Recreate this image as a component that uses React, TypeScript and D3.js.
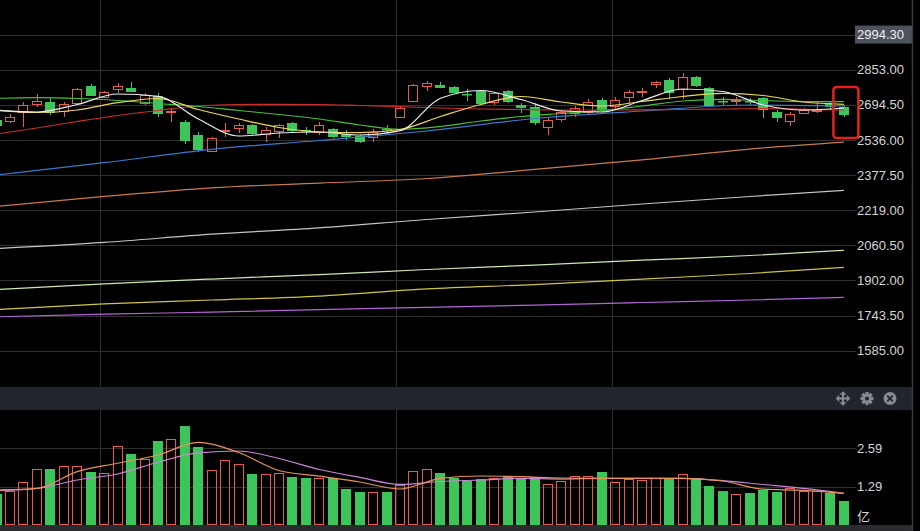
import * as d3 from "d3";

// daily candles, index 0 is cut off at the left edge
const OPEN = [2626, 2621.5, 2663.5, 2696.9, 2708.6, 2668, 2701.4, 2779.5, 2731.2, 2764.6, 2771.8, 2701.4, 2735.7, 2662.1, 2617, 2558.3, 2487.5, 2575, 2588.6, 2603.5, 2562.9, 2577.7, 2613.9, 2580, 2573.2, 2584.1, 2562.9, 2553.8, 2548, 2586.8, 2640.9, 2713.1, 2780.8, 2784, 2773.6, 2745.6, 2756.9, 2708.6, 2756.9, 2693.7, 2686.1, 2595.8, 2629.2, 2659, 2663.5, 2716.3, 2689.2, 2731.2, 2751.5, 2788.5, 2806.6, 2764.6, 2821.5, 2769.1, 2710.9, 2710.9, 2710.9, 2724, 2663.5, 2622.9, 2659, 2668.9, 2701.4, 2686.1];
const HIGH = [2639.6, 2651.8, 2708.6, 2743.4, 2724, 2708.6, 2769.1, 2788.5, 2758.3, 2791.7, 2796.2, 2749.2, 2749.2, 2678.8, 2626, 2573.2, 2550.7, 2611.1, 2613.9, 2608, 2595.8, 2608, 2618.4, 2595.8, 2618.4, 2588.6, 2580.9, 2558.3, 2584.1, 2603.5, 2689.2, 2788.5, 2803.4, 2798.9, 2779.5, 2764.6, 2761.4, 2749.2, 2761.4, 2704.1, 2704.1, 2633.7, 2671.2, 2689.2, 2719.5, 2724, 2728.5, 2761.4, 2769.1, 2803.4, 2814.2, 2836.8, 2824.6, 2776.3, 2731.2, 2731.2, 2725.3, 2731.2, 2671.2, 2663.5, 2681.5, 2708.6, 2713.1, 2693.7];
const LOW = [2585.4, 2611.1, 2595.8, 2686.1, 2648.6, 2640.9, 2693.7, 2734.4, 2724, 2746.5, 2751, 2693.7, 2638.2, 2618.4, 2517.7, 2483, 2483, 2550.7, 2568.7, 2558.3, 2528.1, 2543.5, 2568.7, 2558.3, 2558.3, 2543.5, 2535.8, 2523.6, 2528.1, 2566, 2633.7, 2705.9, 2758.3, 2769.1, 2746.5, 2713.1, 2693.7, 2693.7, 2701.4, 2656.3, 2603.5, 2558.3, 2618.4, 2640.9, 2653.1, 2663.5, 2671.2, 2704.1, 2731.2, 2769.1, 2719.5, 2719.5, 2775, 2686.1, 2693.7, 2693.7, 2693.7, 2633.7, 2618.4, 2599, 2656.3, 2659, 2671.2, 2640.9];
const CLOSE = [2599, 2640.9, 2693.7, 2713.1, 2659, 2696.9, 2764.6, 2735.7, 2753.8, 2779.5, 2753.8, 2738.9, 2651.8, 2666.7, 2532.6, 2490.6, 2543.5, 2580.9, 2603.5, 2562.9, 2580.9, 2603.5, 2577.7, 2575.5, 2603.5, 2548, 2550.7, 2528.1, 2573.2, 2581.8, 2678.8, 2784, 2794.4, 2771.8, 2749.2, 2741.1, 2698.2, 2746.5, 2708.6, 2681.5, 2611.1, 2626, 2663.5, 2678.8, 2708.6, 2671.2, 2716.3, 2751, 2756, 2798.9, 2746.5, 2821.5, 2779.5, 2689.2, 2706.4, 2715.4, 2706.4, 2671.2, 2633.7, 2653.1, 2671.2, 2673.4, 2686.1, 2648.6];
// volume in 亿
const VOLUME = [1.04, 1.15, 1.44, 1.88, 1.88, 1.98, 1.98, 1.79, 1.75, 2.67, 2.4, 2.22, 2.84, 2.9, 3.35, 2.64, 1.86, 2.19, 2.05, 1.72, 1.71, 1.76, 1.62, 1.59, 1.59, 1.59, 1.21, 1.11, 1.11, 1.11, 1.35, 1.81, 1.88, 1.76, 1.59, 1.48, 1.55, 1.59, 1.65, 1.59, 1.62, 1.38, 1.48, 1.65, 1.65, 1.79, 1.45, 1.54, 1.52, 1.59, 1.54, 1.72, 1.59, 1.32, 1.16, 1.04, 1.07, 1.18, 1.11, 1.25, 1.14, 1.16, 1.09, 0.82];

// short averages, read at every third session
const MA_DAYS = [0, 3, 6, 9, 12, 15, 18, 21, 24, 27, 30, 33, 36, 39, 42, 45, 48, 51, 54, 57, 60, 63];
const MA5 = [2668.9, 2662.1, 2696, 2743.3, 2732.5, 2630.5, 2553.8, 2567.3, 2571.8, 2558.3, 2577.7, 2723.9, 2759.1, 2718.5, 2666.6, 2662.1, 2714, 2765.9, 2754.6, 2693.7, 2671.1, 2680.2];
const MA10 = [2671.1, 2659.8, 2671.1, 2704.1, 2723, 2673.4, 2630.5, 2592.1, 2571.8, 2568.7, 2583.1, 2641.8, 2696, 2732.1, 2707.2, 2689.2, 2709.5, 2732.1, 2746.5, 2736.6, 2707.2, 2696.8];
const MA20 = [2723.9, 2726.6, 2723, 2714, 2700.5, 2686.9, 2668.9, 2650.8, 2630.5, 2603.4, 2584, 2596.7, 2621.5, 2641.8, 2655.3, 2668, 2689.2, 2711.7, 2719.4, 2714, 2708.6, 2708.6];
const MA30 = [2562.8, 2589.9, 2619.2, 2646.3, 2668.9, 2689.2, 2696, 2696.9, 2696, 2691.4, 2686, 2680.2, 2675.6, 2673.4, 2671.1, 2671.1, 2672, 2673.4, 2675.6, 2677.9, 2674.3, 2671.1];
const VOL_MA5 = [1.178, 1.232, 1.801, 2.085, 2.363, 2.789, 2.448, 1.838, 1.645, 1.449, 1.212, 1.574, 1.652, 1.628, 1.584, 1.574, 1.574, 1.574, 1.483, 1.205, 1.168, 1.066];
const VOL_MA10 = [1.154, 1.229, 1.517, 1.72, 2.119, 2.437, 2.498, 2.244, 1.872, 1.605, 1.368, 1.466, 1.517, 1.574, 1.547, 1.574, 1.574, 1.574, 1.493, 1.364, 1.232, 1.066];

// long averages, read at every eighth session
const LONG_DAYS = [0, 8, 16, 24, 32, 40, 48, 56, 63];
const MA60 = [2377.8, 2433.3, 2493.8, 2533.5, 2576.4, 2632.8, 2666.6, 2693.7, 2689.2];
const MA120 = [2236, 2281, 2320, 2341, 2362, 2403, 2446, 2495, 2526];
const MA250 = [2046, 2073.6, 2110.6, 2139, 2177, 2210.8, 2247, 2280.8, 2308.7];
const MA500 = [1861, 1886.3, 1908.4, 1928.7, 1951.3, 1971.6, 1993.3, 2014.5, 2038];
const MA750 = [1771, 1796.5, 1813.7, 1831.7, 1864.2, 1883.6, 1908.4, 1933.3, 1961.2];
const MA1000 = [1737.8, 1749.6, 1759.5, 1770, 1780.7, 1791, 1802.4, 1813.7, 1825.8];

const PRICE_TICKS = [1585, 1743.5, 1902, 2060.5, 2219, 2377.5, 2536, 2694.5, 2853];
const PRICE_STEP = 158.5;
const PRICE_HIGH = "2994.30";
const VOL_TICKS = [1.29, 2.59];
const VOL_UNIT = "亿";
// month boundaries, as fractional session positions
const MONTH_SPLITS = [7.7, 29.7, 45.76];

const W = 920;
const H = 531;
const GRID_RIGHT = 856;
const LABEL_X = 857;
const MAIN_BOTTOM = 387;
const BAR_TOP = 387;
const BAR_BOTTOM = 410;
const VOL_BOTTOM = 525;

const RED = "#e65a52";
const GREEN = "#3ec55a";
const GRID = "#303030";
const TEXT = "#d6d6d6";
const FONT = "'Liberation Sans', Arial, sans-serif";

const x = d3.scaleLinear().domain([0, OPEN.length - 1]).range([-3.45, 843.9]);
const y = d3.scaleLinear().domain([1585, 2853]).range([350.7, 69.7]);
const vy = d3.scaleLinear().domain([0, 2.59]).range([524.8, 448.3]);

function path(days: number[], values: number[], scale: d3.ScaleLinear<number, number>) {
  return (
    d3
      .line<number>()
      .x((_, k) => x(days[k]))
      .y((v) => scale(v))
      .curve(d3.curveMonotoneX)(values) || ""
  );
}

const priceLines = [
  { days: LONG_DAYS, values: MA1000, color: "#b366d6" },
  { days: LONG_DAYS, values: MA750, color: "#cfc446" },
  { days: LONG_DAYS, values: MA500, color: "#cde8b0" },
  { days: LONG_DAYS, values: MA250, color: "#c4c4c4" },
  { days: LONG_DAYS, values: MA120, color: "#c97a4c" },
  { days: LONG_DAYS, values: MA60, color: "#3a78c9" },
  { days: MA_DAYS, values: MA30, color: "#c8302c" },
  { days: MA_DAYS, values: MA20, color: "#47bf3f" },
  { days: MA_DAYS, values: MA10, color: "#ecd65a" },
  { days: MA_DAYS, values: MA5, color: "#ececec" },
];

const volLines = [
  { days: MA_DAYS, values: VOL_MA10, color: "#c985d8" },
  { days: MA_DAYS, values: VOL_MA5, color: "#e8925a" },
];

export default function App() {
  const topY = y(PRICE_TICKS[PRICE_TICKS.length - 1] + PRICE_STEP);
  const last = OPEN.length - 1;
  const iconY = (BAR_TOP + BAR_BOTTOM) / 2;

  return (
    <svg
      width={W}
      height={H}
      style={{ position: "absolute", left: 0, top: 0, background: "#000" }}
      fontFamily={FONT}
    >
      <rect width={W} height={H} fill="#000" />

      {/* grid */}
      <line x1={0} x2={GRID_RIGHT} y1={Math.round(topY) + 0.5} y2={Math.round(topY) + 0.5} stroke={GRID} />
      {PRICE_TICKS.map((t) => (
        <line key={t} x1={0} x2={GRID_RIGHT} y1={Math.round(y(t)) + 0.5} y2={Math.round(y(t)) + 0.5} stroke={GRID} />
      ))}
      {VOL_TICKS.map((t) => (
        <line key={t} x1={0} x2={GRID_RIGHT} y1={Math.round(vy(t)) + 0.5} y2={Math.round(vy(t)) + 0.5} stroke={GRID} />
      ))}
      {MONTH_SPLITS.map((d) => {
        const px = Math.round(x(d)) + 0.5;
        return (
          <g key={d}>
            <line x1={px} x2={px} y1={0} y2={MAIN_BOTTOM} stroke={GRID} />
            <line x1={px} x2={px} y1={BAR_BOTTOM} y2={VOL_BOTTOM} stroke={GRID} />
          </g>
        );
      })}

      {/* candles */}
      {OPEN.map((o, i) => {
        const c = CLOSE[i];
        const up = c >= o;
        const cx = Math.round(x(i)) + 0.5;
        const top = Math.round(y(Math.max(o, c)));
        const bot = Math.round(y(Math.min(o, c)));
        const hi = Math.round(y(HIGH[i]));
        const lo = Math.round(y(LOW[i]));
        if (up) {
          return (
            <g key={i} stroke={RED} fill="none">
              <line x1={cx} x2={cx} y1={hi} y2={top} />
              <line x1={cx} x2={cx} y1={bot} y2={lo} />
              <rect x={cx - 5} y={top + 0.5} width={9} height={Math.max(bot - top, 1)} />
            </g>
          );
        }
        return (
          <g key={i}>
            <line x1={cx} x2={cx} y1={hi} y2={lo} stroke={GREEN} />
            <rect x={cx - 5.5} y={top} width={10} height={Math.max(bot - top, 1.5)} fill={GREEN} />
          </g>
        );
      })}

      {/* moving averages */}
      {priceLines.map((l, k) => (
        <path key={k} d={path(l.days, l.values, y)} fill="none" stroke={l.color} strokeWidth={1.2} />
      ))}

      {/* volume */}
      {VOLUME.map((v, i) => {
        const up = CLOSE[i] >= OPEN[i];
        const cx = Math.round(x(i)) + 0.5;
        const top = Math.round(vy(v));
        const base = Math.round(vy(0));
        return up ? (
          <rect key={i} x={cx - 5} y={top + 0.5} width={9} height={base - top - 1} fill="none" stroke={RED} />
        ) : (
          <rect key={i} x={cx - 5.5} y={top} width={10} height={base - top} fill={GREEN} />
        );
      })}
      {volLines.map((l, k) => (
        <path key={k} d={path(l.days, l.values, vy)} fill="none" stroke={l.color} strokeWidth={1.2} />
      ))}

      {/* right axis labels */}
      <rect x={855} y={topY - 9} width={57} height={18} fill="#4d525b" />
      <text x={LABEL_X} y={topY} dy="0.35em" fontSize={13} fill="#f0f0f0">
        {PRICE_HIGH}
      </text>
      {PRICE_TICKS.map((t) => (
        <text key={t} x={LABEL_X} y={y(t)} dy="0.35em" fontSize={13} fill={TEXT}>
          {t.toFixed(2)}
        </text>
      ))}
      {VOL_TICKS.map((t) => (
        <text key={t} x={LABEL_X} y={vy(t)} dy="0.35em" fontSize={13} fill={TEXT}>
          {t.toFixed(2)}
        </text>
      ))}
      <text x={LABEL_X} y={vy(0.27)} dy="0.35em" fontSize={13} fill={TEXT} fontFamily="'Noto Sans CJK SC', sans-serif">
        {VOL_UNIT}
      </text>

      {/* toolbar between panels */}
      <rect x={0} y={BAR_TOP} width={912} height={BAR_BOTTOM - BAR_TOP} fill="#22252c" />
      <g transform={`translate(843,${iconY})`} stroke="#868b96" strokeWidth={2} fill="#868b96">
        <line x1={-6} x2={6} y1={0} y2={0} />
        <line x1={0} x2={0} y1={-6} y2={6} />
        <path d="M-7,0 L-4,-3 L-4,3 Z M7,0 L4,-3 L4,3 Z M0,-7 L-3,-4 L3,-4 Z M0,7 L-3,4 L3,4 Z" strokeWidth={0.5} />
      </g>
      <g transform={`translate(867,${iconY})`} fill="#868b96">
        {d3.range(8).map((k) => (
          <rect key={k} x={-1.6} y={-6.5} width={3.2} height={4} transform={`rotate(${k * 45})`} />
        ))}
        <circle r={4.6} />
        <circle r={2} fill="#22252c" />
      </g>
      <g transform={`translate(890,${iconY})`}>
        <circle r={6.5} fill="#868b96" />
        <path d="M-2.8,-2.8 L2.8,2.8 M2.8,-2.8 L-2.8,2.8" stroke="#22252c" strokeWidth={1.8} />
      </g>

      {/* bottom strip and right border */}
      <rect x={0} y={VOL_BOTTOM} width={912} height={H - VOL_BOTTOM} fill="#2a2c32" />
      <line x1={912.5} x2={912.5} y1={0} y2={H} stroke="#3a3b40" strokeWidth={1.5} />

      {/* highlight around the latest session */}
      <rect
        x={x(last) - 10.5}
        y={y(2775)}
        width={25}
        height={y(2545) - y(2775)}
        rx={3}
        fill="none"
        stroke="#e3221d"
        strokeWidth={2.5}
      />
    </svg>
  );
}
